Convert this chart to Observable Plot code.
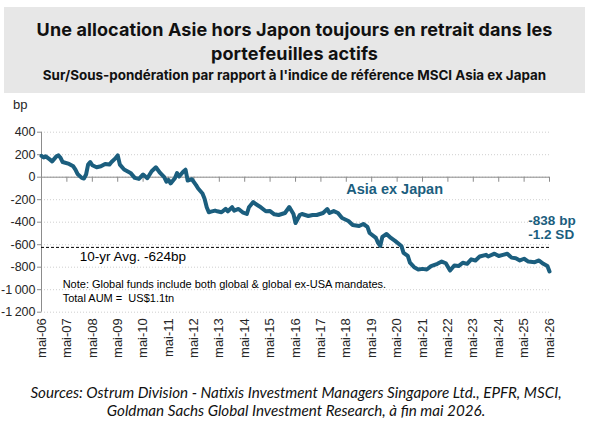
<!DOCTYPE html>
<html><head><meta charset="utf-8">
<script src="https://cdn.jsdelivr.net/npm/d3@7"></script>
<script src="https://cdn.jsdelivr.net/npm/@observablehq/plot@0.6"></script>
<style>
html,body{margin:0;padding:0;background:#fff}
body{width:592px;height:430px;position:relative;overflow:hidden;font-family:"Liberation Sans",Arial,sans-serif}
#head{position:absolute;left:4px;top:7px;width:581px;height:86px;background:#e7e7e7;text-align:center;font-family:Inter,"Noto Sans",sans-serif;color:#111}
#t1{position:absolute;left:0;right:0;top:11px;font-size:18px;font-weight:700;line-height:23.5px;letter-spacing:0.1px}
#t2{position:absolute;left:0;right:0;top:60px;font-size:13.4px;font-weight:700;line-height:16px}
#chart{position:absolute;left:0;top:95px}
#bp{position:absolute;left:13px;top:97px;font-size:13px;color:#262626}
#cap{position:absolute;left:0;width:592px;top:383px;text-align:center;font-family:Lato,"Noto Sans",sans-serif;font-style:italic;font-size:15.2px;line-height:18px;color:#111}
</style></head>
<body>
<div id="head"><div id="t1">Une allocation Asie hors Japon toujours en retrait dans les<br>portefeuilles actifs</div>
<div id="t2">Sur/Sous-pondération par rapport à l'indice de référence MSCI Asia ex Japan</div></div>
<div id="bp">bp</div>
<div id="chart"></div>
<div id="cap">Sources: Ostrum Division - Natixis Investment Managers Singapore Ltd., EPFR, MSCI,<br>Goldman Sachs Global Investment Research, à fin mai 2026.</div>
<script>
const dates = ["2006-05","2006-06","2006-07","2006-09","2006-10","2006-12","2007-01","2007-02","2007-03","2007-06","2007-08","2007-09","2007-10","2007-12","2008-01","2008-02","2008-03","2008-04","2008-05","2008-07","2008-09","2008-11","2009-01","2009-02","2009-04","2009-05","2009-06","2009-08","2009-11","2010-01","2010-03","2010-05","2010-07","2010-09","2010-11","2011-01","2011-03","2011-04","2011-05","2011-06","2011-08","2011-09","2011-10","2011-12","2012-01","2012-02","2012-03","2012-04","2012-06","2012-07","2012-09","2012-10","2012-11","2012-12","2013-01","2013-03","2013-04","2013-06","2013-08","2013-09","2013-11","2013-12","2014-02","2014-04","2014-06","2014-07","2014-09","2014-10","2014-12","2015-03","2015-05","2015-07","2015-09","2015-12","2016-02","2016-04","2016-05","2016-07","2016-08","2016-11","2017-01","2017-03","2017-06","2017-08","2017-09","2017-11","2018-01","2018-03","2018-06","2018-08","2018-11","2019-01","2019-03","2019-04","2019-07","2019-08","2019-09","2019-10","2019-12","2020-02","2020-04","2020-07","2020-08","2020-10","2020-11","2021-01","2021-03","2021-05","2021-07","2021-09","2021-12","2022-02","2022-04","2022-06","2022-08","2022-10","2022-12","2023-02","2023-04","2023-06","2023-08","2023-11","2023-12","2024-03","2024-05","2024-07","2024-09","2024-11","2025-01","2025-03","2025-05","2025-07","2025-10","2025-12","2026-02","2026-04","2026-05"];
const values = [190,176,185,156,141,185,194,170,135,118,97,68,29,-6,-12,24,112,135,106,88,97,118,112,135,170,194,112,68,38,-6,-15,24,-9,53,88,38,0,-39,-24,-55,-9,36,6,51,67,-30,-24,-18,-70,-100,-145,-191,-267,-312,-306,-297,-303,-312,-282,-303,-267,-297,-282,-312,-327,-267,-221,-236,-260,-303,-301,-330,-336,-318,-265,-327,-407,-336,-327,-345,-336,-336,-318,-283,-318,-301,-318,-363,-389,-425,-434,-416,-442,-496,-540,-584,-611,-531,-505,-540,-566,-611,-672,-700,-760,-800,-820,-815,-820,-790,-770,-750,-765,-830,-785,-790,-760,-770,-730,-740,-705,-690,-705,-680,-700,-690,-680,-715,-720,-740,-725,-750,-755,-740,-770,-790,-838];
const yTicks = [400,200,0,-200,-400,-600,-800,-1000,-1200];
const xTickLabels = ["mai-06","mai-07","mai-08","mai-09","mai-10","mai-11","mai-12","mai-13","mai-14","mai-15","mai-16","mai-17","mai-18","mai-19","mai-20","mai-21","mai-22","mai-23","mai-24","mai-25","mai-26"];
const avgValue = -624;
const avgLabel = "10-yr Avg. -624bp";
const seriesName = "Asia ex Japan";
const lastLabel = ["-838 bp", "-1.2 SD"];
const noteLines = ["Note: Global funds include both global & global ex-USA mandates.", "Total AUM =  US$1.1tn"];

const parse = s => { const [y, m] = s.split("-").map(Number); return new Date(Date.UTC(y, m - 1, 1)); };
const data = dates.map((d, i) => ({date: parse(d), value: values[i]}));
const xTicks = xTickLabels.map(l => new Date(Date.UTC(2000 + Number(l.slice(4)), 4, 1)));
const x0 = xTicks[0], x1 = xTicks[xTicks.length - 1];
const fmt = d => (d < 0 ? "-" : "") + String(Math.abs(d)).replace(/\B(?=(\d{3})+(?!\d))/g, "\u202F");
const col = "#1b5e7e";
const axisCol = "#8c8c8c";

const chart = Plot.plot({
  width: 592, height: 270,
  marginLeft: 41, marginRight: 43, marginTop: 36.7, marginBottom: 53.3,
  x: {type: "utc", domain: [x0, x1], label: null},
  y: {domain: [-1200, 400], label: null},
  style: {fontFamily: "'Liberation Sans', Arial, sans-serif", fontSize: "13px", color: "#262626", background: "transparent"},
  marks: [
    Plot.gridY(yTicks, {stroke: "#cfcfcf", strokeOpacity: 1, strokeDasharray: "1,2"}),
    Plot.ruleY([0], {stroke: axisCol}),
    Plot.ruleX(xTicks, {y1: 0, y2: -45, stroke: axisCol}),
    Plot.ruleX([x0], {y1: -1200, y2: 400, stroke: axisCol}),
    Plot.axisY(yTicks, {tickSize: 4, tickPadding: 2, tickFormat: fmt, stroke: axisCol, fill: "#262626", label: null, fontSize: 12.5}),
    Plot.axisX(xTicks, {tickSize: 0, tickPadding: 6, tickRotate: -90, tickFormat: (d, i) => xTickLabels[i], fill: "#262626", label: null, fontSize: 13}),
    Plot.ruleY([avgValue], {stroke: "#000", strokeDasharray: "3,2", strokeWidth: 1}),
    Plot.line(data, {x: "date", y: "value", stroke: col, strokeWidth: 4, strokeLinejoin: "round", strokeLinecap: "round"}),
    Plot.text([avgLabel], {x: parse("2007-11"), y: -708, text: d => d, textAnchor: "start", fontSize: 13.5, fill: "#000"}),
    Plot.text(noteLines, {x: parse("2007-03"), y: (d, i) => [-956, -1080][i], text: d => d, textAnchor: "start", fontSize: 11, fill: "#000"}),
    Plot.text([seriesName], {x: parse("2018-05"), y: -106, text: d => d, textAnchor: "start", fontSize: 14.5, fontWeight: "bold", fill: col}),
    Plot.text(lastLabel, {x: parse("2025-07"), y: (d, i) => [-390, -513][i], text: d => d, textAnchor: "start", fontSize: 13.5, fontWeight: "bold", fill: col})
  ]
});
document.getElementById("chart").appendChild(chart);
</script>
</body></html>
